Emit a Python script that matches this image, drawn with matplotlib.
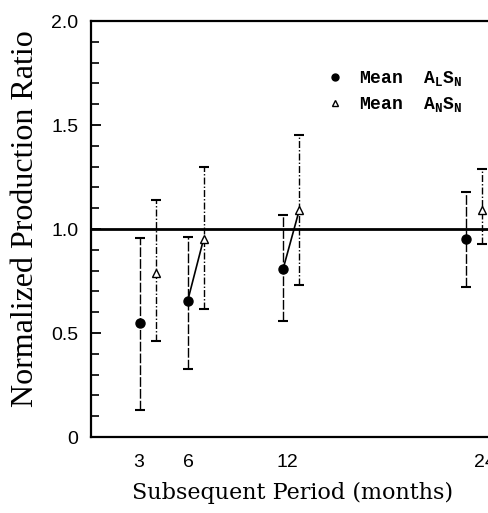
import matplotlib
matplotlib.use('Agg')
import matplotlib.pyplot as plt
from matplotlib.ticker import MultipleLocator

plt.rcParams['mathtext.fontset'] = 'custom'
plt.rcParams['mathtext.rm'] = 'Liberation Mono:bold'
plt.rcParams['mathtext.it'] = 'Liberation Mono:bold'

# values
month_ticks = [3, 6, 12, 24]

ls_x = [3.07, 5.97, 11.77, 22.85]      # Mean A_L S_N (filled circles)
ls_y = [0.55, 0.655, 0.81, 0.95]
ls_lo = [0.13, 0.325, 0.56, 0.72]
ls_hi = [0.955, 0.96, 1.066, 1.18]

ns_x = [4.03, 6.93, 12.74, 23.82]      # Mean A_N S_N (open triangles)
ns_y = [0.79, 0.95, 1.09, 1.09]
ns_lo = [0.46, 0.615, 0.73, 0.93]
ns_hi = [1.14, 1.30, 1.45, 1.29]

linked = [1, 2]   # groups where circle and triangle are joined by a line

fig = plt.figure(figsize=(4.88, 5.13), dpi=100)
W, H = 488.0, 513.0
# right spine runs off the page in the scan
ax = fig.add_axes([91/W, (H-437)/H, (515-91)/W, (437-21)/H])

ax.axhline(1.0, color='black', lw=2.0, zorder=1)

ls_err = [[y-l for y, l in zip(ls_y, ls_lo)], [h-y for y, h in zip(ls_y, ls_hi)]]
ns_err = [[y-l for y, l in zip(ns_y, ns_lo)], [h-y for y, h in zip(ns_y, ns_hi)]]

e1 = ax.errorbar(ls_x, ls_y, yerr=ls_err, fmt='none', ecolor='black',
                 elinewidth=1.0, capsize=3.6, capthick=1.5, zorder=2)
e1[2][0].set_linestyle((0, (7, 1.5)))
e2 = ax.errorbar(ns_x, ns_y, yerr=ns_err, fmt='none', ecolor='black',
                 elinewidth=1.0, capsize=3.6, capthick=1.5, zorder=2)
e2[2][0].set_linestyle((0, (5, 1.5, 1, 1.5)))

for i in linked:
    ax.plot([ls_x[i], ns_x[i]], [ls_y[i], ns_y[i]], color='black', lw=1.2, zorder=2)

ax.plot(ls_x, ls_y, 'o', color='black', ms=6.5, zorder=3,
        label=r'Mean  A$_\mathrm{L}$S$_\mathrm{N}$')
ax.plot(ns_x, ns_y, '^', mfc='white', mec='black', mew=1.0, ms=6, zorder=3,
        label=r'Mean  A$_\mathrm{N}$S$_\mathrm{N}$')

ax.set_xlim(0.1, (515-89.4)/16.47)
ax.set_ylim(0, 2.0)

ax.set_xticks(month_ticks)
ax.set_xticklabels([str(m) for m in month_ticks])
ax.set_yticks([0, 0.5, 1.0, 1.5, 2.0])
ax.set_yticklabels(['0', '0.5', '1.0', '1.5', '2.0'])
ax.yaxis.set_minor_locator(MultipleLocator(0.1))

ax.tick_params(axis='x', length=0, pad=12, labelsize=14)
ax.tick_params(axis='y', which='major', direction='in', length=7, width=1.3,
               pad=9, labelsize=14)
ax.tick_params(axis='y', which='minor', direction='in', length=6, width=1.2)
for lab in ax.get_xticklabels() + ax.get_yticklabels():
    lab.set_family('Liberation Sans')

for s in ax.spines.values():
    s.set_linewidth(1.6)

ax.set_ylabel('Normalized Production Ratio', family='Liberation Serif',
              fontsize=23, labelpad=8)
ax.yaxis.label.set_y(0.525)
ax.set_xlabel('Subsequent Period (months)', family='DejaVu Serif',
              fontsize=16, labelpad=8)
ax.xaxis.label.set_x(0.476)

leg = ax.legend(loc='upper left', bbox_to_anchor=(328/W, 1-69/H),
                bbox_transform=fig.transFigure, frameon=False,
                handlelength=0.8, handletextpad=0.9, labelspacing=0.4,
                borderpad=0, borderaxespad=0,
                prop={'family': 'Liberation Mono', 'weight': 'bold', 'size': 13})
for h in leg.legend_handles:
    h.set_markersize(5)

fig.savefig('out.png', dpi=100)
